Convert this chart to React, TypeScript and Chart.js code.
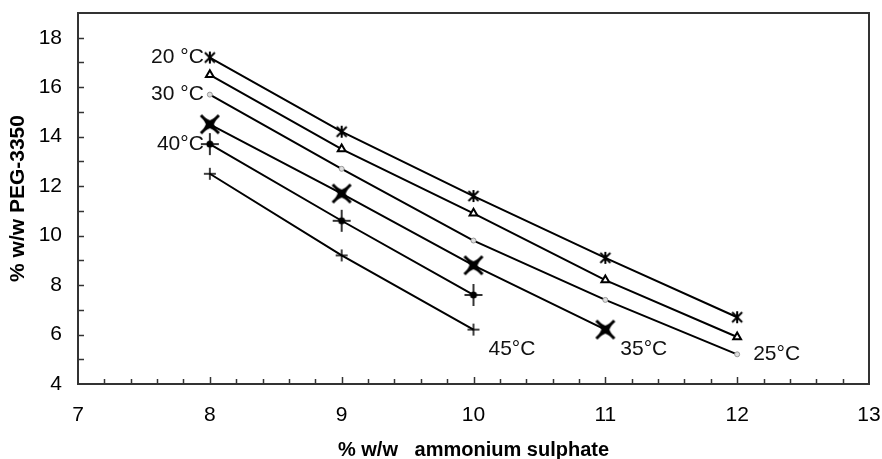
import React, { useEffect, useRef } from 'react';
import { Chart, registerables } from 'chart.js';
Chart.register(...registerables);

// ---- data ----
const xValues = [8, 9, 10, 11, 12];
const peg20 = [17.2, 14.2, 11.6, 9.1, 6.7];
const peg25 = [16.5, 13.5, 10.9, 8.2, 5.9];
const peg30 = [15.7, 12.7, 9.8, 7.4, 5.2];
const peg35 = [14.5, 11.7, 8.8, 6.2];
const peg40 = [13.7, 10.6, 7.6];
const peg45 = [12.5, 9.2, 6.2];
const xTicks = [7, 8, 9, 10, 11, 12, 13];
const yTicks = [4, 6, 8, 10, 12, 14, 16, 18];
const xTitle = '% w/w   ammonium sulphate';
const yTitle = '% w/w PEG-3350';
// temperature labels: anchored to series point
const tempLabels = [
  { text: '20 °C', series: 0, index: 0, side: 'left' },
  { text: '30 °C', series: 2, index: 0, side: 'left' },
  { text: '40°C', series: 4, index: 0, side: 'left' },
  { text: '25°C', series: 2, index: 4, side: 'right' },
  { text: '35°C', series: 3, index: 3, side: 'rightBelow' },
  { text: '45°C', series: 5, index: 2, side: 'rightBelow' },
];

function toPoints(ys: number[]) {
  return ys.map((y, i) => ({ x: xValues[i], y }));
}

function makeMarker(size: number, draw: (g: CanvasRenderingContext2D) => void) {
  const c = document.createElement('canvas');
  c.width = size;
  c.height = size;
  const g = c.getContext('2d')!;
  g.translate(size / 2, size / 2);
  g.strokeStyle = '#000';
  g.fillStyle = '#000';
  g.lineCap = 'butt';
  draw(g);
  return c;
}

function seg(g: CanvasRenderingContext2D, x1: number, y1: number, x2: number, y2: number) {
  g.beginPath();
  g.moveTo(x1, y1);
  g.lineTo(x2, y2);
  g.stroke();
}

const framePlugin = {
  id: 'framePlugin',
  afterDraw(chart: any) {
    const { ctx, chartArea: a, scales } = chart;
    const x = scales.x;
    const y = scales.y;
    ctx.save();
    ctx.strokeStyle = '#333';
    ctx.lineWidth = 1.5;
    // minor/major x ticks (inside)
    for (let i = 1; i < 30; i++) {
      const v = 7 + i * 0.2;
      const px = Math.round(x.getPixelForValue(v)) + 0.5;
      const len = i % 5 === 0 ? 7 : 5;
      ctx.beginPath();
      ctx.moveTo(px, a.bottom);
      ctx.lineTo(px, a.bottom - len);
      ctx.stroke();
    }
    for (let v = 5; v < 19; v++) {
      const py = Math.round(y.getPixelForValue(v)) + 0.5;
      ctx.beginPath();
      ctx.moveTo(a.left, py);
      ctx.lineTo(a.left + 6, py);
      ctx.stroke();
    }
    ctx.lineWidth = 2;
    ctx.strokeRect(a.left, a.top, a.right - a.left, a.bottom - a.top);

    // temperature labels
    ctx.fillStyle = '#111';
    ctx.font = '21px "Liberation Sans", Arial, sans-serif';
    ctx.textBaseline = 'middle';
    for (const l of tempLabels) {
      const el = chart.getDatasetMeta(l.series).data[l.index];
      if (!el) continue;
      if (l.side === 'left') {
        ctx.textAlign = 'right';
        ctx.fillText(l.text, el.x - 6, el.y);
      } else if (l.side === 'right') {
        ctx.textAlign = 'left';
        ctx.fillText(l.text, el.x + 16, el.y);
      } else {
        ctx.textAlign = 'left';
        ctx.fillText(l.text, el.x + 15, el.y + 20);
      }
    }
    ctx.restore();
  },
};

export default function App() {
  const ref = useRef<HTMLCanvasElement>(null);
  useEffect(() => {
    document.body.style.margin = '0';
    const star = makeMarker(16, (g) => {
      g.lineWidth = 2;
      seg(g, -5, -5, 5, 5);
      seg(g, 5, -5, -5, 5);
      seg(g, 0, -6, 0, 6);
    });
    const bowtie = makeMarker(24, (g) => {
      g.lineWidth = 3;
      seg(g, -9, -9, 9, 9);
      seg(g, 9, -9, -9, 9);
      g.beginPath();
      g.moveTo(-8, -8);
      g.lineTo(0, -4);
      g.lineTo(8, -8);
      g.lineTo(4, 0);
      g.lineTo(8, 8);
      g.lineTo(0, 4);
      g.lineTo(-8, 8);
      g.lineTo(-4, 0);
      g.closePath();
      g.fill();
    });
    const fplus = makeMarker(24, (g) => {
      g.lineWidth = 1.6;
      seg(g, 0, -11, 0, 11);
      seg(g, -9, 0, 9, 0);
      g.beginPath();
      g.arc(0, 0, 3.5, 0, Math.PI * 2);
      g.fill();
    });
    const plus = makeMarker(16, (g) => {
      g.lineWidth = 1.5;
      seg(g, 0, -6, 0, 6);
      seg(g, -6, 0, 6, 0);
    });

    const tickFont = { family: '"Liberation Sans", Arial, sans-serif', size: 21 };
    const base = { borderColor: '#000', borderWidth: 2, tension: 0, fill: false };
    const chart = new Chart(ref.current!, {
      type: 'line',
      data: {
        datasets: [
          { ...base, label: '20 °C', data: toPoints(peg20), pointStyle: star as any, pointRadius: 7 },
          {
            ...base, label: '25 °C', data: toPoints(peg25), pointStyle: 'triangle', pointRadius: 4.5,
            pointBorderWidth: 2, pointBorderColor: '#000', pointBackgroundColor: '#fff',
          },
          {
            ...base, label: '30 °C', data: toPoints(peg30), pointStyle: 'circle', pointRadius: 2.5,
            pointBorderWidth: 1, pointBorderColor: '#999', pointBackgroundColor: '#ddd',
          },
          { ...base, label: '35 °C', data: toPoints(peg35), pointStyle: bowtie as any, pointRadius: 11 },
          { ...base, label: '40 °C', data: toPoints(peg40), pointStyle: fplus as any, pointRadius: 11 },
          { ...base, label: '45 °C', data: toPoints(peg45), pointStyle: plus as any, pointRadius: 7 },
        ],
      },
      options: {
        responsive: false,
        animation: false,
        layout: { padding: { top: 13, right: 12, left: 0, bottom: 0 } },
        plugins: { legend: { display: false }, tooltip: { enabled: false } },
        scales: {
          x: {
            type: 'linear',
            min: 7,
            max: 13,
            afterBuildTicks: (s: any) => { s.ticks = xTicks.map((v) => ({ value: v })); },
            afterFit: (s: any) => { s.height = 75; s.paddingLeft = 0; s.paddingRight = 0; },
            grid: { display: false, drawTicks: false },
            border: { display: false },
            ticks: {
              padding: 19,
              color: '#000',
              font: tickFont,
              maxRotation: 0,
            },
            title: {
              display: true,
              text: xTitle,
              color: '#000',
              padding: { top: 0, bottom: -3 },
              font: { family: '"Liberation Sans", Arial, sans-serif', size: 20, weight: 'bold' },
            },
          },
          y: {
            type: 'linear',
            min: 4,
            max: 19,
            afterBuildTicks: (s: any) => { s.ticks = yTicks.map((v) => ({ value: v })); },
            afterFit: (s: any) => { s.width = 78; s.paddingTop = 0; s.paddingBottom = 0; },
            grid: { display: false, drawTicks: false },
            border: { display: false },
            ticks: {
              padding: 16,
              color: '#000',
              font: tickFont,
            },
            title: {
              display: true,
              text: yTitle,
              color: '#000',
              padding: { top: 6, bottom: 0 },
              font: { family: '"Liberation Sans", Arial, sans-serif', size: 21, weight: 'bold' },
            },
          },
        },
      },
      plugins: [framePlugin],
    });
    return () => chart.destroy();
  }, []);
  return (
    <div style={{ width: 882, height: 459, background: '#fff' }}>
      <canvas ref={ref} width={882} height={459} />
    </div>
  );
}
